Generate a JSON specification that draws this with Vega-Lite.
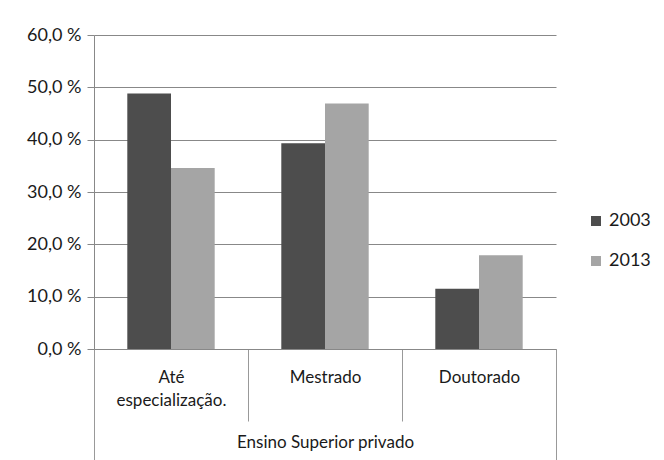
{
  "$schema": "https://vega.github.io/schema/vega-lite/v6.json",
  "width": 462,
  "height": 314,
  "autosize": "none",
  "padding": {"left": 94, "top": 35, "right": 108, "bottom": 111},
  "background": "white",
  "config": {"font": "Lato", "view": {"stroke": null}},
  "data": {
    "values": [
      {"nivel": "Até especialização.", "ano": "2003", "valor": 48.8},
      {"nivel": "Até especialização.", "ano": "2013", "valor": 34.6},
      {"nivel": "Mestrado", "ano": "2003", "valor": 39.3},
      {"nivel": "Mestrado", "ano": "2013", "valor": 46.9},
      {"nivel": "Doutorado", "ano": "2003", "valor": 11.5},
      {"nivel": "Doutorado", "ano": "2013", "valor": 17.9}
    ]
  },
  "mark": {"type": "bar"},
  "encoding": {
    "x": {
      "field": "nivel",
      "type": "nominal",
      "sort": ["Até especialização.", "Mestrado", "Doutorado"],
      "scale": {"paddingInner": 0, "paddingOuter": 0},
      "axis": {
        "domain": true,
        "domainColor": "#888888",
        "ticks": true,
        "tickBand": "extent",
        "tickColor": "#999999",
        "tickSize": {"condition": {"test": "datum.index < 0 || datum.index == 1", "value": 111}, "value": 72},
        "labelAngle": 0,
        "labelExpr": "split(datum.label, ' ')",
        "labelFontSize": 17,
        "labelColor": "#1a1a1a",
        "labelLineHeight": 23,
        "labelBaseline": "top",
        "labelPadding": {"condition": {"test": "datum.index < 0 || datum.index == 1", "value": -91}, "value": -52},
        "title": "Ensino Superior privado",
        "titleFontSize": 17,
        "titleFontWeight": "normal",
        "titleColor": "#1a1a1a",
        "titleY": 93,
        "titleBaseline": "middle"
      }
    },
    "xOffset": {"field": "ano", "type": "nominal", "scale": {"paddingInner": 0, "paddingOuter": 0.762}},
    "y": {
      "field": "valor",
      "type": "quantitative",
      "scale": {"domain": [0, 60]},
      "axis": {
        "values": [0, 10, 20, 30, 40, 50, 60],
        "labelExpr": "replace(format(datum.value, '.1f'), '.', ',') + ' %'",
        "labelFontSize": 18,
        "labelColor": "#1a1a1a",
        "labelPadding": 6,
        "tickSize": 7,
        "tickColor": "#888888",
        "domainColor": "#888888",
        "gridColor": "#888888",
        "gridOpacity": 1,
        "title": null
      }
    },
    "color": {
      "field": "ano",
      "type": "nominal",
      "scale": {"domain": ["2003", "2013"], "range": ["#4d4d4d", "#a5a5a5"]},
      "legend": {
        "title": null,
        "orient": "none",
        "legendX": 493,
        "legendY": 177,
        "symbolType": "square",
        "symbolSize": 100,
        "symbolStrokeWidth": 0,
        "labelFontSize": 18,
        "labelColor": "#1a1a1a",
        "rowPadding": 22,
        "labelOffset": 4
      }
    }
  }
}
